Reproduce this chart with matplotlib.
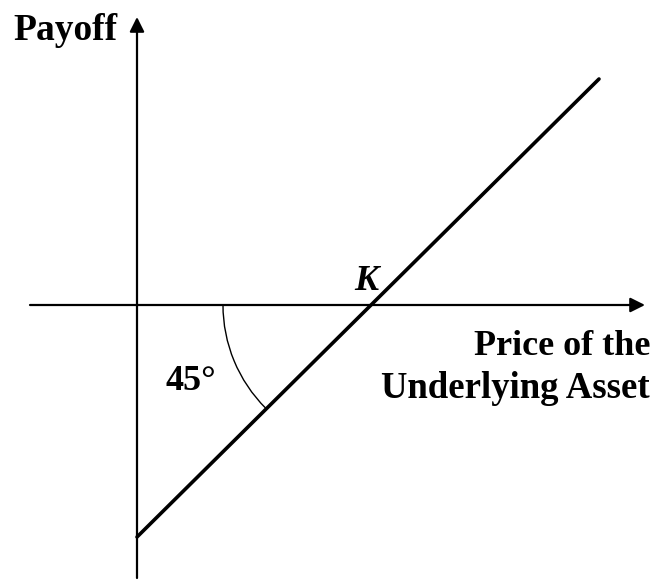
import matplotlib
matplotlib.use('Agg')
import matplotlib.pyplot as plt
from matplotlib.patches import Arc
import numpy as np

# payoff diagram, origin where the two axes cross
strike = 232
prices = [0, 462]
payoffs = [-232, 226]
x_axis = [-107, 508]
y_axis = [-273, 288]
arc_radius = 146

plt.rcParams['font.family'] = ['Liberation Serif', 'DejaVu Serif']

fig = plt.figure(figsize=(6.54, 5.80), dpi=100)
ax = fig.add_axes([0, 0, 1, 1])
ax.set_xlim(-137, 517)
ax.set_ylim(-275, 305)
ax.axis('off')

arrow = dict(arrowstyle='-|>', lw=1.6, color='black', mutation_scale=22,
             shrinkA=0, shrinkB=0)
ax.annotate('', xy=(x_axis[1], 0), xytext=(x_axis[0], 0), arrowprops=arrow)
ax.annotate('', xy=(0, y_axis[1]), xytext=(0, y_axis[0]), arrowprops=arrow)

ax.plot(prices, payoffs, color='black', lw=2.6, solid_capstyle='round')

ax.add_patch(Arc((strike, 0), 2 * arc_radius, 2 * arc_radius,
                 theta1=180, theta2=225, color='black', lw=1.0))

ax.text(-124, 265, 'Payoff', fontsize=27, fontweight='bold', va='baseline')
ax.text(229, 15, 'K', fontsize=26, fontweight='bold', style='italic',
        ha='center', va='baseline')
ax.text(28, -85, '45°', fontsize=26, fontweight='bold', va='baseline')
ax.text(513, -50, 'Price of the', fontsize=26, fontweight='bold',
        ha='right', va='baseline')
ax.text(513, -93, 'Underlying Asset', fontsize=26.5, fontweight='bold',
        ha='right', va='baseline')

fig.savefig('out.png', dpi=100)
